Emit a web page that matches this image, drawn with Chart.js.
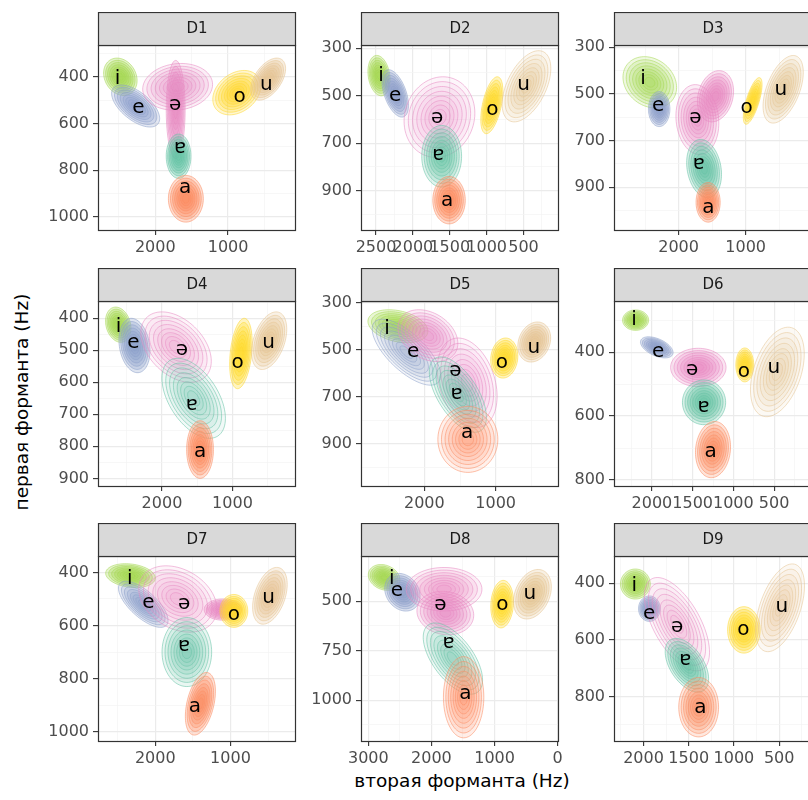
<!DOCTYPE html>
<html><head><meta charset="utf-8">
<script src="https://cdn.jsdelivr.net/npm/chart.js@4.4.1/dist/chart.umd.min.js"></script>
<style>
html,body{margin:0;padding:0;width:808px;height:800px;overflow:hidden;background:#fff;}
canvas{position:absolute;}
.title{position:absolute;font-family:"DejaVu Sans";font-size:18.5px;color:#000;white-space:nowrap;transform-origin:center center;}
</style></head><body>
<div id="xt" class="title" style="left:462px;top:780px;transform:translate(-50%,-50%);">вторая форманта (Hz)</div>
<div id="yt" class="title" style="left:21px;top:402px;transform:translate(-50%,-50%) rotate(-90deg);">первая форманта (Hz)</div>
<script>
// ---------- data ----------
const panels = ['D1','D2','D3','D4','D5','D6','D7','D8','D9'];
const vowels = ['i','e','ə','ɐ','a','o','u'];
const vowelColors = ['#A6D854','#8DA0CB','#E78AC3','#66C2A5','#FC8D62','#FFD92F','#E5C494'];

// axis ranges (Hz)
const xMin = [67, 19, 10, 99, 113, 35, 128, -21, 137];
const xMax = [2787, 2704, 2964, 2907, 2887, 2465, 2762, 3116, 2326];
const yMin = [264, 286, 290, 346, 293, 240, 338, 272, 304];
const yMax = [1060, 1070, 1088, 927, 1082, 822, 1039, 1211, 961];

// tick labels
const xMajor = [[2000,1000],[2500,2000,1500,1000,500],[2000,1000],[2000,1000],[2000,1000],[2000,1500,1000,500],[2000,1000],[3000,2000,1000,0],[2000,1500,1000,500]];
const xMinor = [[2500,1500,500],[2250,1750,1250,750,250],[2500,1500,500],[2500,1500,500],[2500,1500,500],[2250,1750,1250,750,250],[2500,1500,500],[2500,1500,500],[2250,1750,1250,750,250]];
const yMajor = [[400,600,800,1000],[300,500,700,900],[300,500,700,900],[400,500,600,700,800,900],[300,500,700,900],[400,600,800],[400,600,800,1000],[500,750,1000],[400,600,800]];
const yMinor = [[300,500,700,900],[400,600,800,1000],[400,600,800,1000],[350,450,550,650,750,850],[400,600,800,1000],[300,500,700],[500,700,900],[375,625,875,1125],[500,700,900]];

// vowel label positions (F2, F1)
const labelF2 = [
 [2520,2232,1727,1659,1590,840,475],
 [2432,2241,1673,1656,1537,924,498],
 [2530,2305,1750,1700,1555,985,475],
 [2615,2404,1718,1578,1460,926,489],
 [2521,2155,1563,1549,1399,915,465],
 [2218,1922,1506,1366,1280,872,502],
 [2340,2092,1617,1617,1472,956,494],
 [2628,2548,1859,1731,1461,877,442],
 [2103,1937,1629,1537,1370,896,470]
];
const labelF1 = [
 [410,534,521,706,877,486,436],
 [414,502,593,750,941,558,452],
 [437,550,603,798,988,560,481],
 [426,477,499,671,818,540,478],
 [412,510,591,688,853,556,491],
 [299,398,455,570,711,462,449],
 [425,513,520,675,905,558,494],
 [389,449,517,711,966,517,461],
 [411,507,553,670,840,563,485]
];

// density clouds: centre, spread (Hz) and tilt per vowel
const cloudF2 = [
 [2480,2270,1720,1680,1580,880,450],
 [2460,2240,1640,1610,1510,930,460],
 [2430,2290,1720,1620,1560,895,440],
 [2620,2390,1800,1550,1460,880,480],
 [2370,2250,1400,1530,1390,880,460],
 [2200,1940,1430,1360,1250,860,460],
 [2330,2160,1700,1580,1400,955,475],
 [2750,2460,1780,1660,1490,880,400],
 [2090,1935,1630,1520,1390,890,490]
];
const cloudF1 = [
 [400,525,540,740,922,468,410],
 [415,490,590,755,940,540,460],
 [450,565,610,820,965,530,480],
 [420,485,490,650,810,510,470],
 [400,510,640,690,880,535,467],
 [300,385,448,557,705,440,462],
 [412,520,500,700,895,545,488],
 [380,455,560,790,985,515,465],
 [403,490,545,690,838,565,487]
];
const spreadF2 = [
 [230,330,130,170,240,330,240],
 [150,180,480,270,220,150,330],
 [400,160,320,260,180,140,300],
 [180,220,500,450,190,160,250],
 [420,480,420,400,420,190,230],
 [160,200,340,265,215,110,330],
 [330,330,520,330,200,185,230],
 [250,280,450,470,320,180,300],
 [165,120,360,240,220,180,270]
];
const spreadF1 = [
 [80,90,210,95,100,95,90],
 [85,100,170,130,100,120,150],
 [110,75,150,125,85,100,145],
 [55,85,110,125,90,110,90],
 [70,140,190,160,140,85,85],
 [32,33,60,70,88,53,140],
 [45,87,125,130,118,62,107],
 [65,95,110,180,205,120,125],
 [53,45,165,95,105,82,155]
];
const tilt = [
 [-0.2,-0.6,0,0,0,0.3,0.5],
 [-0.2,-0.5,0.1,0,0,0.5,0.5],
 [-0.2,0,-0.1,-0.2,0,0.7,0.5],
 [-0.2,-0.2,-0.4,-0.5,0,0.3,0.4],
 [-0.3,-0.7,-0.3,-0.6,0,0.1,0.2],
 [0,-0.5,0,0,0.1,0,0.4],
 [-0.2,-0.7,-0.3,0,0.4,0,0.4],
 [-0.2,-0.2,-0.1,-0.6,0,0.1,0.3],
 [0,0,-0.6,-0.5,0,0,0.5]
];
// secondary lobes
const extraPanel = ['D1','D3','D5','D7','D8'];
const extraVowel = ['ə','ə','ə','ə','ə'];
const extraF2 = [1693,1450,1950,1100,1800];
const extraF1 = [443,510,440,540,440];
const extraS2 = [480,270,420,250,600];
const extraS1 = [100,110,110,40,110];
const extraTilt = [0.1,0.2,-0.3,0,0];

// ---------- rendering ----------
const colLeft=[98,361,614], rowTop=[12,268,523];
const stripH=33, plotW=198, plotH=186, yAxW=60, xAxH=34, padR=24;
const levels=[1,0.88,0.76,0.64,0.52,0.41,0.3,0.19];

function rgba(hex,a){const n=parseInt(hex.slice(1),16);return `rgba(${n>>16&255},${n>>8&255},${n&255},${a})`;}

const facetPlugin={
  id:'facet',
  beforeDatasetsDraw(chart){
    const p=chart.options.plugins.facet.panel;
    const xs=chart.scales.x, ys=chart.scales.y, ctx=chart.ctx, ca=chart.chartArea;
    ctx.save();
    ctx.beginPath();ctx.rect(ca.left,ca.top,ca.right-ca.left,ca.bottom-ca.top);ctx.clip();
    const comps=[];
    vowels.forEach((v,i)=>{
      comps.push({c:vowelColors[i],f2:cloudF2[p][i],f1:cloudF1[p][i],s2:spreadF2[p][i],s1:spreadF1[p][i],r:tilt[p][i]});
      extraPanel.forEach((ep,k)=>{ if(ep===panels[p]&&extraVowel[k]===v) comps.push({c:vowelColors[i],f2:extraF2[k],f1:extraF1[k],s2:extraS2[k],s1:extraS1[k],r:extraTilt[k]}); });
    });
    comps.forEach(c=>{
      const a=Math.abs(xs.getPixelForValue(c.f2+c.s2)-xs.getPixelForValue(c.f2));
      const b=Math.abs(ys.getPixelForValue(c.f1+c.s1)-ys.getPixelForValue(c.f1));
      const area=Math.PI*a*b;
      const fa=Math.min(0.3,Math.max(0.035,380/area));
      const q=Math.sqrt(1-c.r*c.r);
      levels.forEach(k=>{
        ctx.beginPath();
        for(let j=0;j<=80;j++){
          const t=j/80*2*Math.PI;
          const f2=c.f2+k*c.s2*Math.cos(t);
          const f1=c.f1+k*c.s1*(c.r*Math.cos(t)+q*Math.sin(t));
          const X=xs.getPixelForValue(f2), Y=ys.getPixelForValue(f1);
          if(j===0)ctx.moveTo(X,Y);else ctx.lineTo(X,Y);
        }
        ctx.closePath();
        ctx.fillStyle=rgba(c.c,fa);ctx.fill();
        ctx.strokeStyle=rgba(c.c,0.55);ctx.lineWidth=1;ctx.stroke();
      });
    });
    ctx.restore();
  },
  afterDatasetsDraw(chart){
    const ctx=chart.ctx, meta=chart.getDatasetMeta(0);
    ctx.save();
    ctx.fillStyle='#000';ctx.font='20px "DejaVu Sans"';ctx.textAlign='center';ctx.textBaseline='middle';
    meta.data.forEach((pt,i)=>{ctx.fillText(vowels[i],pt.x,pt.y);});
    ctx.restore();
  },
  afterDraw(chart){
    const p=chart.options.plugins.facet.panel;
    const ctx=chart.ctx, ca=chart.chartArea;
    ctx.save();
    ctx.strokeStyle='#333333';ctx.lineWidth=1.2;
    ctx.strokeRect(ca.left+0.5,ca.top+0.5,ca.right-ca.left-1,ca.bottom-ca.top-1);
    ctx.fillStyle='#D9D9D9';
    ctx.fillRect(ca.left,ca.top-stripH,ca.right-ca.left,stripH);
    ctx.strokeRect(ca.left+0.5,ca.top-stripH+0.5,ca.right-ca.left-1,stripH);
    ctx.fillStyle='#1A1A1A';ctx.font='15px "DejaVu Sans"';ctx.textAlign='center';ctx.textBaseline='middle';
    ctx.fillText(panels[p],(ca.left+ca.right)/2,ca.top-stripH/2+1);
    ctx.restore();
  }
};

function tickSet(maj,min){return maj.map(v=>({value:v,major:true})).concat(min.map(v=>({value:v,major:false}))).sort((a,b)=>a.value-b.value);}
const gridOpts=(tl)=>({
  color:c=>c.tick&&c.tick.major?'#EBEBEB':'#F3F3F3',
  lineWidth:c=>c.tick&&c.tick.major?1.2:0.7,
  tickColor:c=>c.tick&&c.tick.major?'#333333':'rgba(0,0,0,0)',
  tickWidth:1.1, tickLength:tl, drawTicks:true, drawOnChartArea:true
});

panels.forEach((name,p)=>{
  const col=p%3,row=Math.floor(p/3);
  const W=yAxW+plotW+padR, H=stripH+plotH+xAxH;
  const cv=document.createElement('canvas');
  cv.width=W;cv.height=H;
  cv.style.left=(colLeft[col]-yAxW)+'px';cv.style.top=rowTop[row]+'px';
  cv.style.width=W+'px';cv.style.height=H+'px';
  document.body.appendChild(cv);
  new Chart(cv,{
    type:'scatter',
    data:{datasets:[{data:vowels.map((v,i)=>({x:labelF2[p][i],y:labelF1[p][i]})),pointRadius:0,pointHoverRadius:0}]},
    plugins:[facetPlugin],
    options:{
      responsive:false,animation:false,devicePixelRatio:1,
      layout:{padding:{top:stripH,right:padR,left:0,bottom:0}},
      plugins:{legend:{display:false},tooltip:{enabled:false},facet:{panel:p}},
      scales:{
        x:{type:'linear',reverse:true,min:xMin[p],max:xMax[p],
          afterBuildTicks:s=>{s.ticks=tickSet(xMajor[p],xMinor[p]);},
          afterFit:s=>{s.height=xAxH;},
          ticks:{autoSkip:false,maxRotation:0,minRotation:0,padding:3,color:'#4D4D4D',font:{family:'DejaVu Sans',size:16},
            callback:(v,i,t)=>t[i]&&t[i].major?String(v):''},
          grid:gridOpts(4),border:{display:false}},
        y:{type:'linear',reverse:true,min:yMin[p],max:yMax[p],
          afterBuildTicks:s=>{s.ticks=tickSet(yMajor[p],yMinor[p]);},
          afterFit:s=>{s.width=yAxW;},
          ticks:{autoSkip:false,padding:4,color:'#4D4D4D',font:{family:'DejaVu Sans',size:16},
            callback:(v,i,t)=>t[i]&&t[i].major?String(v):''},
          grid:gridOpts(5),border:{display:false}}
      }
    }
  });
});
</script>
</body></html>
